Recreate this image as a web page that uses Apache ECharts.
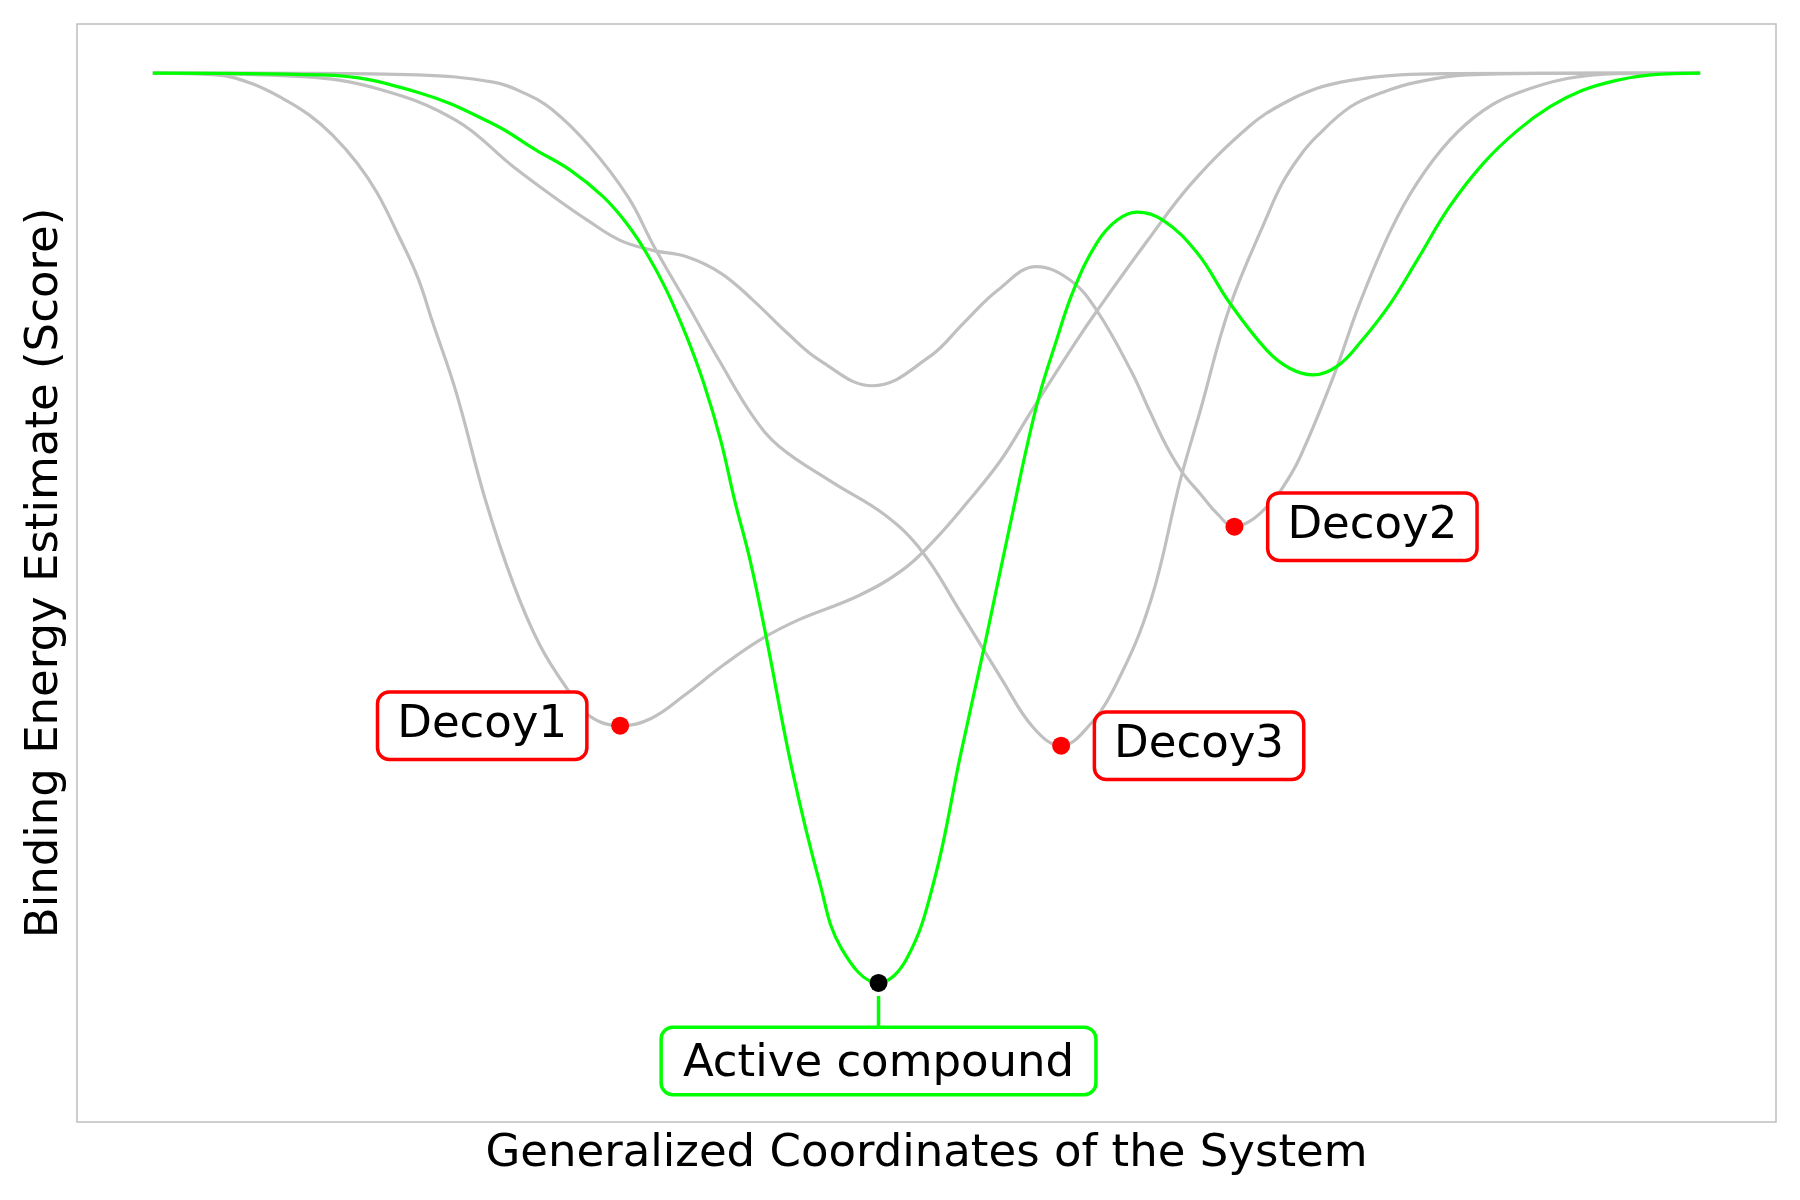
<!DOCTYPE html>
<html>
<head>
<meta charset="utf-8">
<script src="https://cdn.jsdelivr.net/npm/echarts@6/dist/echarts.min.js"></script>
<style>
html,body{margin:0;padding:0;background:#ffffff;}
#chart{width:1800px;height:1200px;}
</style>
</head>
<body>
<div id="chart"></div>
<script>
// Generalized coordinate (x) vs binding energy estimate (y)
const decoy1Curve = [
  [0,0],[0.41,-0.002],[0.63,-0.011],[0.84,-0.028],[1.01,-0.046],[1.16,-0.068],[1.32,-0.099],
  [1.45,-0.132],[1.58,-0.176],[1.71,-0.224],[1.81,-0.275],[1.96,-0.351],[2.15,-0.470],
  [2.33,-0.562],[2.50,-0.629],[2.68,-0.678],[2.82,-0.707],[3.02,-0.718],[3.22,-0.710],
  [3.44,-0.684],[3.69,-0.651],[3.94,-0.622],[4.18,-0.601],[4.56,-0.575],[4.85,-0.546],
  [5.05,-0.514],[5.26,-0.473],[5.48,-0.426],[5.67,-0.374],[5.96,-0.297],[6.10,-0.262],
  [6.43,-0.184],[6.72,-0.120],[7.09,-0.058],[7.30,-0.034],[7.52,-0.017],[7.74,-0.008],
  [8.06,-0.002],[8.38,-0.0005],[10,0]
];
const decoy2Curve = [
  [0,0],[0.97,-0.004],[1.47,-0.018],[1.96,-0.052],[2.33,-0.103],[2.59,-0.136],[2.81,-0.162],
  [3.02,-0.184],[3.23,-0.195],[3.45,-0.202],[3.67,-0.220],[3.88,-0.250],[4.10,-0.286],
  [4.31,-0.316],[4.65,-0.344],[5.02,-0.312],[5.24,-0.275],[5.46,-0.239],[5.71,-0.213],
  [5.93,-0.228],[6.10,-0.261],[6.32,-0.327],[6.44,-0.371],[6.55,-0.410],[6.66,-0.441],
  [6.77,-0.463],[6.88,-0.485],[6.99,-0.499],[7.09,-0.493],[7.20,-0.477],[7.29,-0.459],
  [7.41,-0.424],[7.63,-0.334],[7.80,-0.253],[8.00,-0.173],[8.17,-0.121],[8.38,-0.074],
  [8.60,-0.041],[8.82,-0.022],[9.14,-0.006],[9.46,-0.0005],[10,0]
];
const decoy3Curve = [
  [0,0],[0.95,-0.0002],[1.71,-0.002],[2.20,-0.010],[2.40,-0.022],[2.58,-0.040],[2.82,-0.080],
  [3.07,-0.136],[3.24,-0.191],[3.45,-0.253],[3.67,-0.319],[3.88,-0.378],[4.05,-0.411],
  [4.39,-0.450],[4.73,-0.486],[4.97,-0.526],[5.22,-0.593],[5.48,-0.665],[5.69,-0.720],
  [5.87,-0.740],[6.04,-0.720],[6.23,-0.671],[6.45,-0.580],[6.64,-0.448],[6.77,-0.371],
  [6.96,-0.257],[7.20,-0.158],[7.30,-0.121],[7.41,-0.092],[7.52,-0.070],[7.74,-0.037],
  [7.95,-0.021],[8.17,-0.010],[8.49,-0.002],[9.03,-0.0003],[10,0]
];
const activeCurve = [
  [0,0],[1.09,-0.002],[1.71,-0.021],[2.20,-0.056],[2.48,-0.085],[2.70,-0.107],[2.91,-0.136],
  [3.06,-0.165],[3.19,-0.198],[3.32,-0.239],[3.45,-0.290],[3.56,-0.341],[3.67,-0.404],
  [3.76,-0.470],[3.86,-0.536],[3.96,-0.617],[4.13,-0.765],[4.31,-0.891],[4.45,-0.963],
  [4.69,-1.001],[4.87,-0.975],[5.05,-0.888],[5.22,-0.750],[5.38,-0.626],[5.54,-0.497],
  [5.71,-0.367],[5.84,-0.294],[5.95,-0.239],[6.10,-0.187],[6.23,-0.162],[6.36,-0.153],
  [6.53,-0.162],[6.75,-0.198],[6.96,-0.253],[7.20,-0.305],[7.35,-0.325],[7.50,-0.332],
  [7.65,-0.323],[7.80,-0.297],[8.00,-0.253],[8.17,-0.206],[8.38,-0.147],[8.60,-0.099],
  [8.82,-0.063],[9.03,-0.037],[9.24,-0.019],[9.46,-0.008],[9.68,-0.002],[10,0]
];
const decoyNames = ['Decoy1','Decoy2','Decoy3'];
const activeName = 'Active compound';
const xAxisTitle = 'Generalized Coordinates of the System';
const yAxisTitle = 'Binding Energy Estimate (Score)';

function argMinPoint(curve){
  let best = curve[0];
  for (const p of curve) if (p[1] < best[1]) best = p;
  return best;
}

const FONT = 'DejaVu Sans';
const GRAY = '#c0c0c0';
const GREEN = '#00ff00';
const RED = '#ff0000';
const SMOOTH = 0.4;

const decoyCurves = [decoy1Curve, decoy2Curve, decoy3Curve];
const decoyLabelPos = ['left','right','right'];

function boxLabel(color, pos, dist, padH){
  return {
    show: true, position: pos, distance: dist, opacity: 1,
    fontFamily: FONT, fontSize: 45, color: '#000000', lineHeight: 50,
    backgroundColor: '#ffffff', borderColor: color, borderWidth: 3.5, borderRadius: 10,
    padding: [10, padH, 4, padH]
  };
}

const series = [];
decoyCurves.forEach((c) => {
  series.push({
    type: 'line', data: c, smooth: SMOOTH, showSymbol: false, symbol: 'none',
    lineStyle: {color: GRAY, width: 3.2, opacity: 1}, z: 2, silent: true
  });
});
series.push({
  type: 'line', data: activeCurve, smooth: SMOOTH, showSymbol: false, symbol: 'none',
  lineStyle: {color: GREEN, width: 3.2, opacity: 1}, z: 3, silent: true
});
decoyCurves.forEach((c, i) => {
  series.push({
    type: 'scatter', data: [argMinPoint(c)], symbolSize: 18, z: 5,
    itemStyle: {color: RED, opacity: 1},
    label: Object.assign(boxLabel(RED, decoyLabelPos[i], 26, 18), {formatter: decoyNames[i]})
  });
});
const activeMin = argMinPoint(activeCurve);
const ACTIVE_DIST = 37;
series.push({
  type: 'scatter', data: [activeMin], symbolSize: 18, z: 5,
  itemStyle: {color: '#000000', opacity: 1},
  label: Object.assign(boxLabel(GREEN, 'bottom', ACTIVE_DIST, 20), {formatter: activeName})
});

const chart = echarts.init(document.getElementById('chart'), null, {renderer: 'canvas'});
chart.setOption({
  animation: false,
  backgroundColor: '#ffffff',
  grid: {left: 77, right: 24, top: 24, bottom: 78, show: true, borderColor: '#bfbfbf', borderWidth: 1.5, backgroundColor: 'transparent'},
  xAxis: {
    type: 'value', min: -0.49, max: 10.49,
    axisLine: {show: false}, axisTick: {show: false}, axisLabel: {show: false}, splitLine: {show: false},
    name: xAxisTitle, nameLocation: 'middle', nameGap: 10,
    nameTextStyle: {fontFamily: FONT, fontSize: 45, color: '#000000', verticalAlign: 'top'}
  },
  yAxis: {
    type: 'value', min: -1.154, max: 0.054,
    axisLine: {show: false}, axisTick: {show: false}, axisLabel: {show: false}, splitLine: {show: false},
    name: yAxisTitle, nameLocation: 'middle', nameGap: 9,
    nameTextStyle: {fontFamily: FONT, fontSize: 45, color: '#000000'}
  },
  series: series
});

const p = chart.convertToPixel({xAxisIndex: 0, yAxisIndex: 0}, activeMin);
chart.setOption({
  graphic: [{
    type: 'line', z: 4,
    shape: {x1: p[0], y1: p[1] + 13, x2: p[0], y2: p[1] + 9 + ACTIVE_DIST + 1},
    style: {stroke: GREEN, lineWidth: 3.5}
  }]
});
</script>
</body>
</html>
